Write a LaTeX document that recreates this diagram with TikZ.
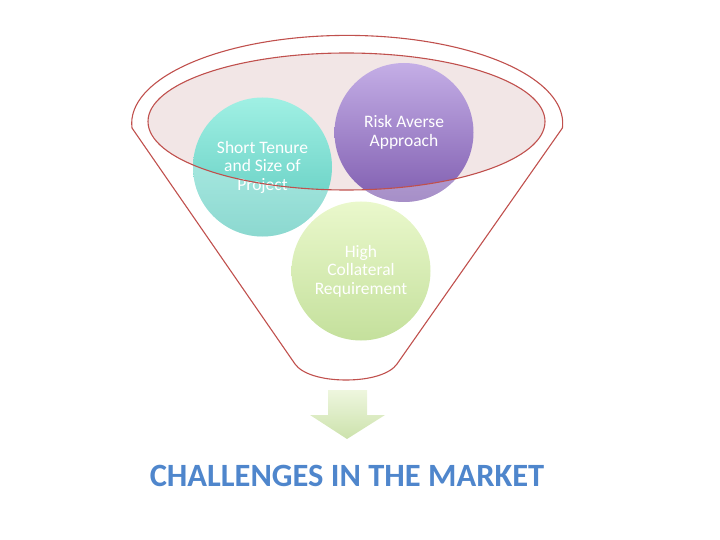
\documentclass[tikz,border=0pt]{standalone}
\usepackage{fontspec}
\setmainfont{Carlito}
\usetikzlibrary{shadings}
\definecolor{funnelred}{HTML}{C0504D}
\definecolor{ellfill}{HTML}{F2E6E6}
\definecolor{titleblue}{HTML}{4F86CC}
\tikzset{
  bubble/.style={circle, minimum size=139pt, inner sep=0pt, align=center, text=white, font=\fontsize{17.5}{18.5}\selectfont},
  outline/.style={draw=funnelred, line width=1.1pt}
}
\begin{document}
\begin{tikzpicture}[x=1pt,y=-1pt]
\useasboundingbox (0,0) rectangle (720,540);
% inner ellipse fill (behind circles)
\fill[ellfill] (346.5,121.5) ellipse [x radius=198.5, y radius=68.5];
% circles
\shade[top color={rgb,255:red,160;green,240;blue,228}, bottom color={rgb,255:red,90;green,200;blue,188}] (262.5,167) circle (69.5);
\shade[top color={rgb,255:red,196;green,174;blue,230}, bottom color={rgb,255:red,128;green,94;blue,176}] (404,132.5) circle (69.5);
\shade[top color={rgb,255:red,234;green,248;blue,204}, bottom color={rgb,255:red,196;green,224;blue,156}] (361,271) circle (69.5);
% wash out parts outside the ellipse
\begin{scope}[even odd rule]
\clip (0,0) rectangle (720,540) (346.5,121.5) ellipse [x radius=198.5, y radius=68.5];
\fill[white, opacity=0.3] (262.5,167) circle (69.5);
\fill[white, opacity=0.3] (404,132.5) circle (69.5);
\end{scope}
% text nodes
\node[bubble] (tenure) at (262.5,167) {Short Tenure\\and Size of\\Project};
\node[bubble] (risk) at (404,132.5) {Risk Averse\\Approach};
\node[bubble] (coll) at (361,271) {High\\Collateral\\Requirement};
% inner ellipse outline
\draw[outline] (346.5,121.5) ellipse [x radius=198.5, y radius=68.5];
% funnel outline
\draw[outline, line join=round] (132,128) arc[start angle=177, end angle=363, x radius=215.5, y radius=88]
  -- (397,364) .. controls (390,374) and (370,380) .. (346,380)
  .. controls (322,380) and (302,374) .. (295,364) -- cycle;
% arrow
\shade[top color={rgb,255:red,238;green,246;blue,222}, bottom color={rgb,255:red,204;green,226;blue,172}]
  (328,390) -- (367,390) -- (367,415) -- (385,415) -- (347,439) -- (310,415) -- (328,415) -- cycle;
\node[text=titleblue, font=\fontsize{32.5}{36}\selectfont\bfseries] (title) at (347,476) {CHALLENGES IN THE MARKET};
\end{tikzpicture}
\end{document}
